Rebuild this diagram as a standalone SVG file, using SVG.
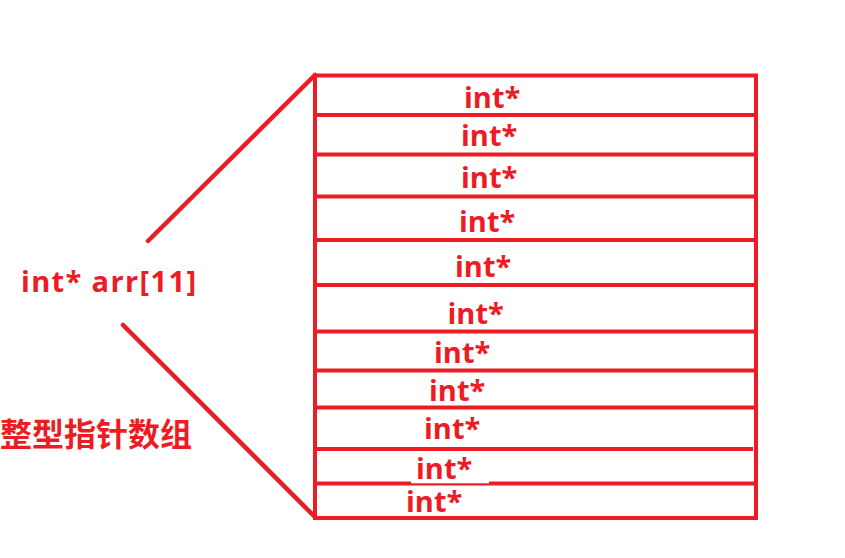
<svg xmlns="http://www.w3.org/2000/svg" width="845" height="558" viewBox="0 0 845 558">
<style>
.ln{stroke:#ED1C24;stroke-width:4;fill:none}
.d{stroke:#ED1C24;stroke-width:4.5;stroke-linecap:round;fill:none}
.t{fill:#ED1C24;font-family:"Open Sans","Noto Sans",sans-serif;font-weight:bold;font-size:29px}
.c{fill:#ED1C24;font-family:"Noto Sans CJK SC",sans-serif;font-weight:bold;font-size:32px}
</style>
<rect width="845" height="558" fill="#fff"/>
<g id="connectors">
<line class="d" x1="148" y1="241" x2="315" y2="75"/>
<line class="d" x1="123" y1="325" x2="315" y2="517"/>
</g>
<g id="array">
<rect class="ln" x="315" y="75.5" width="441" height="442.5"/>
<line class="ln" x1="315" y1="115" x2="756" y2="115"/>
<line class="ln" x1="315" y1="154.5" x2="756" y2="154.5"/>
<line class="ln" x1="315" y1="196.5" x2="756" y2="196.5"/>
<line class="ln" x1="315" y1="240" x2="756" y2="240"/>
<line class="ln" x1="315" y1="285" x2="756" y2="285"/>
<line class="ln" x1="315" y1="331.5" x2="756" y2="331.5"/>
<line class="ln" x1="315" y1="370.5" x2="756" y2="370.5"/>
<line class="ln" x1="315" y1="407.5" x2="756" y2="407.5"/>
<line class="ln" x1="315" y1="449" x2="753" y2="449"/>
<line class="ln" x1="315" y1="483.5" x2="756" y2="483.5"/>
<rect x="411" y="481" width="78" height="2.3" fill="#fff"/>
<text class="t" x="464" y="108">int*</text>
<text class="t" x="461" y="146">int*</text>
<text class="t" x="461" y="188">int*</text>
<text class="t" x="459" y="231.5">int*</text>
<text class="t" x="455" y="277">int*</text>
<text class="t" x="447.5" y="324">int*</text>
<text class="t" x="434" y="362.5">int*</text>
<text class="t" x="429" y="400.5">int*</text>
<text class="t" x="424" y="439">int*</text>
<text class="t" x="416" y="479">int*</text>
<text class="t" x="406" y="512">int*</text>
</g>
<g id="label">
<text class="t" x="21" y="292" textLength="175" lengthAdjust="spacing">int* arr[11]</text>
</g>
<g id="caption">
<text class="c" x="0" y="446">整型指针数组</text>
</g>
</svg>
